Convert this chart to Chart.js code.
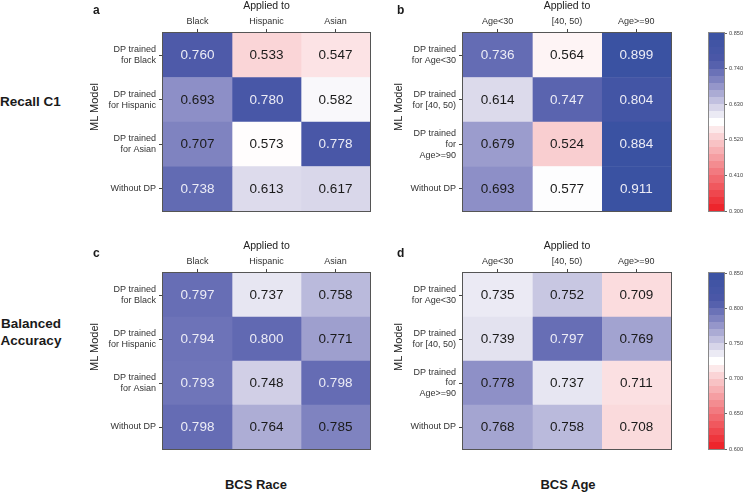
<!DOCTYPE html>
<html>
<head>
<meta charset="utf-8">
<script src="https://cdn.jsdelivr.net/npm/chart.js@4/dist/chart.umd.min.js"></script>
<style>
  html, body { margin:0; padding:0; background:#fff; }
  body { width:748px; height:492px; position:relative; overflow:hidden; font-family:"Liberation Sans", Arial, sans-serif; color:#1a1a1a; }
  canvas { position:absolute; }
  .t { position:absolute; white-space:nowrap; line-height:1; }
  .b { font-weight:bold; }
  .rot { position:absolute; white-space:nowrap; line-height:1; font-size:11px; color:#222; transform:translate(-50%,-50%) rotate(-90deg); }
</style>
</head>
<body>
<canvas id="ca" width="290" height="235" style="left:82px;top:0px"></canvas>
<canvas id="cb" width="283" height="235" style="left:390px;top:0px"></canvas>
<canvas id="cc" width="290" height="235" style="left:82px;top:240px"></canvas>
<canvas id="cd" width="283" height="235" style="left:390px;top:240px"></canvas>
<canvas id="cbar1" width="48" height="235" style="left:700px;top:0px"></canvas>
<canvas id="cbar2" width="48" height="235" style="left:700px;top:240px"></canvas>

<div class="t b" style="left:93px;top:3.8px;font-size:12px">a</div>
<div class="t b" style="left:397px;top:3.8px;font-size:12px">b</div>
<div class="t b" style="left:93px;top:246.8px;font-size:12px">c</div>
<div class="t b" style="left:397px;top:246.8px;font-size:12px">d</div>
<div class="t b" style="left:0px;top:94.6px;font-size:13.5px">Recall C1</div>
<div class="t b" style="left:0px;top:314.8px;width:62px;text-align:center;font-size:13.5px;line-height:17px">Balanced<br>Accuracy</div>
<div class="t b" style="left:206px;width:100px;text-align:center;top:478px;font-size:13px">BCS Race</div>
<div class="t b" style="left:518px;width:100px;text-align:center;top:478px;font-size:13px">BCS Age</div>
<div class="rot" style="left:93.5px;top:107px">ML Model</div>
<div class="rot" style="left:397.5px;top:107px">ML Model</div>
<div class="rot" style="left:93.5px;top:347px">ML Model</div>
<div class="rot" style="left:397.5px;top:347px">ML Model</div>

<script>
// ---------- data ----------
const raceCols = ['Black', 'Hispanic', 'Asian'];
const raceRows = [['DP trained', 'for Black'], ['DP trained', 'for Hispanic'], ['DP trained', 'for Asian'], 'Without DP'];
const ageCols = ['Age<30', '[40, 50)', 'Age>=90'];
const ageRows = [['DP trained', 'for Age<30'], ['DP trained', 'for [40, 50)'], ['DP trained', 'for', 'Age>=90'], 'Without DP'];

const recallRace = [
  [0.760, 0.533, 0.547],
  [0.693, 0.780, 0.582],
  [0.707, 0.573, 0.778],
  [0.738, 0.613, 0.617]
];
const recallAge = [
  [0.736, 0.564, 0.899],
  [0.614, 0.747, 0.804],
  [0.679, 0.524, 0.884],
  [0.693, 0.577, 0.911]
];
const balAccRace = [
  [0.797, 0.737, 0.758],
  [0.794, 0.800, 0.771],
  [0.793, 0.748, 0.798],
  [0.798, 0.764, 0.785]
];
const balAccAge = [
  [0.735, 0.752, 0.709],
  [0.739, 0.797, 0.769],
  [0.778, 0.737, 0.711],
  [0.768, 0.758, 0.708]
];
const recallScaleTicks = [0.300, 0.410, 0.520, 0.630, 0.740, 0.850];
const balAccScaleTicks = [0.600, 0.650, 0.700, 0.750, 0.800, 0.850];

// ---------- colour map ----------
const blueStops = [[0, [255,255,255]], [0.15, [218,216,234]], [0.45, [135,137,196]], [0.68, [76,88,168]], [1, [58,82,162]]];
const redStops  = [[0, [255,255,255]], [0.15, [250,214,216]], [0.5, [243,135,140]], [1, [237,28,36]]];
function interp(stops, t) {
  for (let i = 1; i < stops.length; i++) {
    if (t <= stops[i][0]) {
      const [t0, c0] = stops[i-1], [t1, c1] = stops[i];
      const f = (t - t0) / (t1 - t0);
      return c0.map((c, k) => Math.round(c + (c1[k] - c) * f));
    }
  }
  return stops[stops.length-1][1];
}
function tOf(v, lo, hi) {
  const mid = (lo + hi) / 2;
  let t = (v - mid) / ((hi - lo) / 2);
  return Math.max(-1, Math.min(1, t));
}
function colorFor(v, lo, hi) {
  const t = tOf(v, lo, hi);
  const c = t >= 0 ? interp(blueStops, t) : interp(redStops, -t);
  return `rgb(${c[0]},${c[1]},${c[2]})`;
}

const FONT = '"Liberation Sans", Arial, sans-serif';

const cellPlugin = {
  id: 'cells',
  afterDatasetsDraw(chart, args, opts) {
    const ctx = chart.ctx;
    ctx.save();
    ctx.font = `13.5px ${FONT}`;
    ctx.textAlign = 'center';
    ctx.textBaseline = 'middle';
    chart.data.datasets.forEach((ds, c) => {
      const meta = chart.getDatasetMeta(c);
      meta.data.forEach((el, r) => {
        const v = opts.values[r][c];
        const p = el.getCenterPoint();
        ctx.fillStyle = tOf(v, opts.lo, opts.hi) > 0.5 ? 'rgb(236,236,246)' : '#1a1a1a';
        ctx.fillText(v.toFixed(3), p.x, p.y + 0.5);
      });
    });
    ctx.restore();
  },
  afterDraw(chart, args, opts) {
    const a = chart.chartArea, ctx = chart.ctx;
    ctx.save();
    ctx.strokeStyle = opts.border || '#555';
    ctx.lineWidth = 1;
    ctx.strokeRect(Math.round(a.left) - 0.5, Math.round(a.top) - 0.5, Math.round(a.right - a.left) + 1, Math.round(a.bottom - a.top) + 1);
    ctx.restore();
  }
};

function heatmap(id, cols, rows, values, lo, hi, yWidth, padBottom) {
  const datasets = cols.map((col, c) => ({
    label: col,
    data: rows.map(() => [c, c + 1]),
    backgroundColor: rows.map((r, i) => colorFor(values[i][c], lo, hi)),
    borderWidth: 0,
    barPercentage: 1,
    categoryPercentage: 1,
    grouped: false
  }));
  new Chart(document.getElementById(id), {
    type: 'bar',
    data: { labels: rows, datasets },
    plugins: [cellPlugin],
    options: {
      responsive: false,
      animation: false,
      indexAxis: 'y',
      layout: { padding: { top: 0, right: 2, bottom: padBottom, left: 0 } },
      plugins: {
        legend: { display: false },
        tooltip: { enabled: false },
        cells: { values, lo, hi }
      },
      scales: {
        x: {
          type: 'linear', position: 'top', min: 0, max: cols.length,
          afterBuildTicks: (s) => { s.ticks = cols.map((c, i) => ({ value: i + 0.5 })); },
          afterFit: (s) => { s.height = 33; },
          ticks: { callback: (v, i) => cols[i], font: { family: FONT, size: 9 }, color: '#333', padding: 2, maxRotation: 0, autoSkip: false },
          grid: { drawOnChartArea: false, drawTicks: true, tickLength: 4, color: '#444' },
          border: { display: false },
          title: { display: true, text: 'Applied to', font: { family: FONT, size: 10.5 }, color: '#222', padding: { top: 0, bottom: 0 } }
        },
        y: {
          afterFit: (s) => { s.width = yWidth; },
          ticks: { font: { family: FONT, size: 9, lineHeight: 1.22 }, color: '#333', padding: 3, autoSkip: false },
          grid: { offset: false, drawOnChartArea: false, drawTicks: true, tickLength: 4, color: '#444' },
          border: { display: false }
        }
      }
    }
  });
}

function colorbar(id, ticks, padBottom) {
  const lo = ticks[0], hi = ticks[ticks.length - 1];
  const N = 25;
  new Chart(document.getElementById(id), {
    type: 'bar',
    data: {
      labels: [''],
      datasets: [{
        data: [[lo, hi]],
        borderWidth: 0,
        barPercentage: 1,
        categoryPercentage: 1,
        backgroundColor: (ctx) => {
          const a = ctx.chart.chartArea;
          if (!a) return '#fff';
          const g = ctx.chart.ctx.createLinearGradient(0, a.bottom, 0, a.top);
          for (let i = 0; i < N; i++) {
            const col = colorFor(lo + (i + 0.5) * (hi - lo) / N, lo, hi);
            g.addColorStop(i / N, col);
            g.addColorStop((i + 1) / N, col);
          }
          return g;
        }
      }]
    },
    plugins: [{
      id: 'cbBorder',
      afterDraw(chart) {
        const a = chart.chartArea, ctx = chart.ctx;
        ctx.save();
        ctx.strokeStyle = '#888';
        ctx.lineWidth = 1;
        ctx.strokeRect(Math.round(a.left) - 0.5, Math.round(a.top) - 0.5, Math.round(a.right - a.left) + 1, Math.round(a.bottom - a.top) + 1);
        ctx.restore();
      }
    }],
    options: {
      responsive: false,
      animation: false,
      layout: { padding: { left: 9, top: 33, bottom: padBottom, right: 0 } },
      plugins: { legend: { display: false }, tooltip: { enabled: false } },
      scales: {
        x: { display: false },
        y: {
          position: 'right', min: lo, max: hi,
          afterFit: (s) => { s.width = 24; },
          afterBuildTicks: (s) => { s.ticks = ticks.map(v => ({ value: v })); },
          ticks: { callback: (v) => v.toFixed(3), font: { family: FONT, size: 5.6 }, color: '#444', padding: 2, autoSkip: false },
          grid: { drawOnChartArea: false, drawTicks: true, tickLength: 3, color: '#666' },
          border: { display: false }
        }
      }
    }
  });
}

heatmap('ca', raceCols, raceRows, recallRace, 0.300, 0.850, 81, 24);
heatmap('cb', ageCols, ageRows, recallAge, 0.300, 0.850, 73, 24);
heatmap('cc', raceCols, raceRows, balAccRace, 0.600, 0.850, 81, 26);
heatmap('cd', ageCols, ageRows, balAccAge, 0.600, 0.850, 73, 26);
colorbar('cbar1', recallScaleTicks, 24);
colorbar('cbar2', balAccScaleTicks, 26);
</script>
</body>
</html>
